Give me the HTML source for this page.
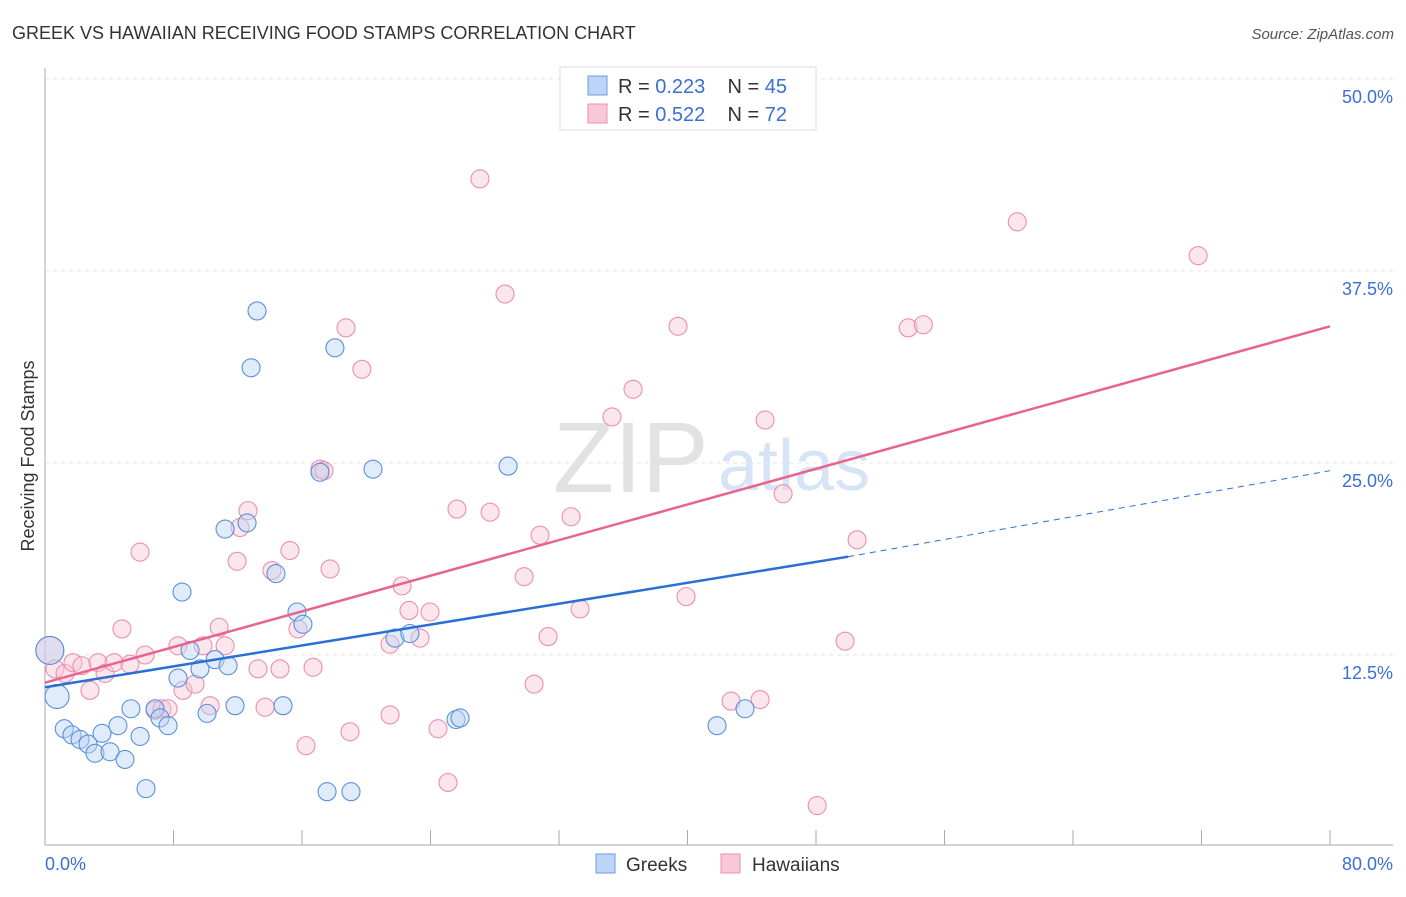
<!DOCTYPE html>
<html><head><meta charset="utf-8"><style>
body{margin:0;background:#fff;font-family:"Liberation Sans",sans-serif}
svg text{font-family:"Liberation Sans",sans-serif}
</style></head><body>
<svg id="c" width="1406" height="892">
<text x="12" y="39" font-size="18" fill="#333">GREEK VS HAWAIIAN RECEIVING FOOD STAMPS CORRELATION CHART</text>
<text x="1394" y="39" font-size="15" fill="#555" font-style="italic" text-anchor="end">Source: ZipAtlas.com</text>
<text x="34" y="456" font-size="18" fill="#333" text-anchor="middle" transform="rotate(-90 34 456)">Receiving Food Stamps</text>
<text x="553" y="492" font-size="100" fill="#e2e2e2" font-family="Liberation Serif">ZIP</text>
<text x="718" y="490" font-size="72" fill="#d6e4f6">atlas</text>
<g id="grid"></g><g id="pts"></g><g id="lines"></g>
<g>
<rect x="560" y="67" width="256" height="63" fill="#fff" stroke="#ddd"/>
<rect x="588" y="76" width="19" height="19" fill="#bcd5f5" stroke="#6a9be0"/>
<rect x="588" y="104" width="19" height="19" fill="#f9c8d8" stroke="#ea8fae"/>
<text x="618" y="93" font-size="20" fill="#333" xml:space="preserve">R = <tspan fill="#3b6fd4">0.223</tspan>    N = <tspan fill="#3b6fd4">45</tspan></text>
<text x="618" y="121" font-size="20" fill="#333" xml:space="preserve">R = <tspan fill="#3b6fd4">0.522</tspan>    N = <tspan fill="#3b6fd4">72</tspan></text>
</g>
<g>
<rect x="596" y="854" width="19" height="19" fill="#bcd5f5" stroke="#6a9be0"/>
<text x="626" y="871" font-size="19" fill="#333">Greeks</text>
<rect x="721" y="854" width="19" height="19" fill="#f9c8d8" stroke="#ea8fae"/>
<text x="752" y="871" font-size="19" fill="#333">Hawaiians</text>
</g>
</svg>
<script>
const yTicks=[12.5,25,37.5,50];
const yTickLabels=["12.5%","25.0%","37.5%","50.0%"];
const xTicks=[0,8,16,24,32,40,48,56,64,72,80];
const greekX=[0.3,0.75,1.2,1.68,2.18,2.68,3.11,3.55,4.05,4.54,4.98,5.35,5.92,6.29,6.85,7.16,7.66,8.28,8.53,9.03,9.65,10.09,10.59,11.21,11.4,11.83,12.58,12.83,13.2,14.38,14.82,15.69,16.06,17.12,17.56,18.05,19.05,20.42,21.79,22.72,25.59,25.84,28.83,41.84,43.58];
const greekY=[12.8,9.8,7.7,7.3,7.0,6.7,6.1,7.4,6.2,7.9,5.7,9.0,7.2,3.8,9.0,8.4,7.9,11.0,16.6,12.8,11.6,8.7,12.2,20.7,11.8,9.2,21.1,31.2,34.9,17.8,9.2,15.3,14.5,24.4,3.6,32.5,3.6,24.6,13.6,13.9,8.3,8.4,24.8,7.9,9.0];
const hawX=[0.3,0.62,1.25,1.74,2.30,2.80,3.30,3.74,4.30,4.79,5.29,5.92,6.23,6.85,7.28,7.66,8.28,8.59,9.34,9.84,10.28,10.84,11.21,11.96,12.14,12.64,13.26,13.70,14.13,14.63,15.25,15.75,16.25,16.69,17.12,17.37,17.75,18.74,18.99,19.73,21.48,21.48,22.23,22.66,23.35,23.97,24.47,25.09,25.65,27.08,27.71,28.64,29.83,30.45,30.82,31.32,32.75,33.31,35.30,36.61,39.41,39.91,42.71,44.52,44.83,45.95,48.07,49.81,50.56,53.74,54.68,60.53,71.79];
const hawY=[12.8,11.6,11.3,12.0,11.8,10.2,12.0,11.3,12.0,14.2,11.9,19.2,12.5,8.9,9.0,9.0,13.1,10.2,10.6,13.1,9.2,14.3,13.1,18.6,20.8,21.9,11.6,9.1,18.0,11.6,19.3,14.2,6.6,11.7,24.6,24.5,18.1,33.8,7.5,31.1,13.2,8.6,17.0,15.4,13.6,15.3,7.7,4.2,22.0,43.5,21.8,36.0,17.6,10.6,20.3,13.7,21.5,15.5,28.0,29.8,33.9,16.3,9.5,9.6,27.8,23.0,2.7,13.4,20.0,33.8,34.0,40.7,38.5];
const greekTrend=[[0,10.4],[50,18.9]];
const greekTrendDash=[[50,18.9],[80,24.5]];
const hawTrend=[[0,10.7],[80,33.9]];
const X=v=>45+v/80*1285, Y=v=>847-v/12.5*192;
const NS='http://www.w3.org/2000/svg';
function mk(t,a,p){const e=document.createElementNS(NS,t);for(const k in a)e.setAttribute(k,a[k]);p.appendChild(e);return e;}
const grid=document.getElementById('grid');
yTicks.forEach((t,i)=>{
 const l=mk('line',{x1:45,x2:1393,y1:Y(t),y2:Y(t),stroke:'#e4e4e4','stroke-dasharray':'4,4'},grid);
 
 
 const tx=mk('text',{x:1393,y:Y(t)+24,'font-size':18,fill:'#3b6fd4','text-anchor':'end'},grid);
 tx.textContent=yTickLabels[i];
 
 
});
const ax=mk('line',{x1:45,x2:45,y1:68,y2:845,stroke:'#aaa'},grid);


const bx=mk('line',{x1:45,x2:1393,y1:845,y2:845,stroke:'#aaa'},grid);


xTicks.forEach(t=>{const l=mk('line',{x1:X(t),x2:X(t),y1:830,y2:845,stroke:'#aaa'},grid);
 
 });
const x0=mk('text',{x:45,y:870,'font-size':18,fill:'#3b6fd4'},grid);x0.textContent='0.0%';


const x1=mk('text',{x:1393,y:870,'font-size':18,fill:'#3b6fd4','text-anchor':'end'},grid);x1.textContent='80.0%';


const pts=document.getElementById('pts');
function series(xs,ys,fill,stroke,name){xs.forEach((x,i)=>{
 const r=i==0?14:(name=='greek-point'&&i==1?12:9);
 const c=mk('circle',{cx:X(x),cy:Y(ys[i]),r:r,fill:fill,'fill-opacity':0.45,stroke:stroke,'stroke-width':1.1},pts);
 
 });}
series(hawX,hawY,'#f9c8d8','#ea8fae','hawaiian-point');
series(greekX,greekY,'#bcd5f5','#5a8fdc','greek-point');
const lines=document.getElementById('lines');
function ln(p,col,dash,name){const l=mk('line',{x1:X(p[0][0]),y1:Y(p[0][1]),x2:X(p[1][0]),y2:Y(p[1][1]),stroke:col,'stroke-width':dash?1:2.5,'stroke-dasharray':dash?'6,5':'none'},lines);
 
 }
ln(greekTrend,'#2a6fd6',false,'greek-trendline');
ln(greekTrendDash,'#2a6fd6',true,'greek-trendline-extension');
ln(hawTrend,'#e8648f',false,'hawaiian-trendline');
</script>
</body></html>
